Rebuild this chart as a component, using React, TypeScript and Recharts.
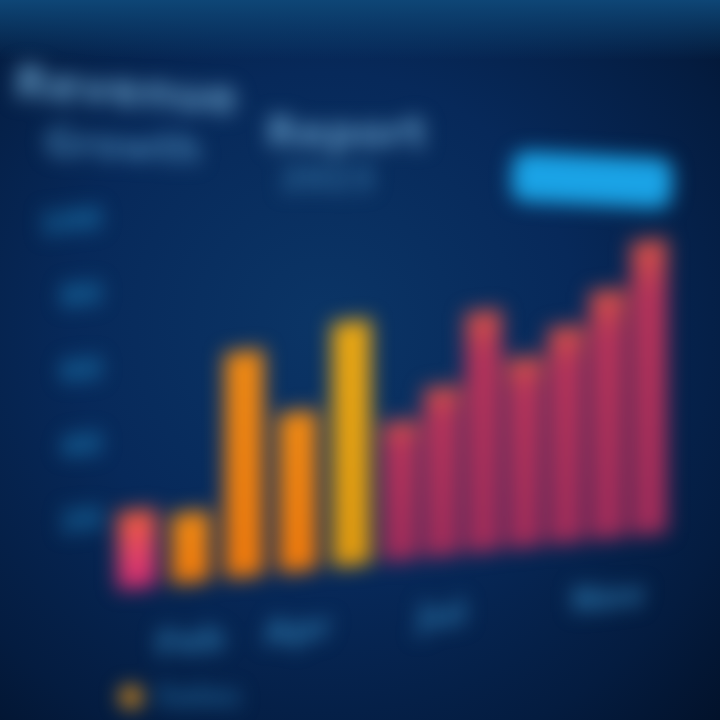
import React from "react";
import { BarChart, Bar, XAxis, YAxis, Cell } from "recharts";

const leftCategories = ["Jan", "Feb", "Mar", "Apr", "May"];
const leftValues = [20.8, 18.9, 60.3, 42.7, 65.3];
const rightCategories = ["Jun", "Jul", "Aug", "Sep", "Oct", "Nov", "Dec"];
const rightValues = [37.3, 45.3, 64.3, 50.9, 57.9, 66.4, 78.4];
const yTicks = [20, 40, 60, 80, 100];
const leftXTicks = ["Feb", "Apr"];
const rightXTicks = ["Jul", "Nov"];
const leftFills = ["url(#gPink)", "url(#gOrange)", "url(#gOrange)", "url(#gOrange)", "url(#gYellow)"];

const leftData = leftCategories.map((c, i) => ({ name: c, value: leftValues[i] }));
const rightData = rightCategories.map((c, i) => ({ name: c, value: rightValues[i] }));

const tickStyle = { fill: "#2a74a8", fontSize: 34, fontWeight: 700 };

export default function App() {
  return (
    <div
      style={{
        width: 720,
        height: 720,
        position: "fixed",
        left: 0,
        top: 0,
        overflow: "hidden",
        background:
          "radial-gradient(ellipse at 45% 45%, #0b3566 0%, #07295a 45%, #041c40 80%, #02122b 100%)",
        fontFamily: "'DejaVu Sans', sans-serif",
      }}
    >
      <div style={{ position: "absolute", left: 0, top: 0, width: 720, height: 60, background: "linear-gradient(#0e4676, rgba(14,70,118,0))" }} />
      <div style={{ position: "absolute", inset: 0, filter: "blur(10px)" }}>
        <div style={{ position: "absolute", left: 16, top: 55, fontSize: 46, fontWeight: 700, color: "#5b8fb8", transform: "rotate(4deg)", transformOrigin: "left top", whiteSpace: "nowrap" }}>
          Revenue
        </div>
        <div style={{ position: "absolute", left: 46, top: 120, fontSize: 38, fontWeight: 700, color: "#3f78a8", transform: "rotate(3deg)", transformOrigin: "left top", whiteSpace: "nowrap" }}>
          Growth
        </div>
        <div style={{ position: "absolute", left: 266, top: 108, fontSize: 42, fontWeight: 700, color: "#5a90bc", whiteSpace: "nowrap" }}>
          Report
        </div>
        <div style={{ position: "absolute", left: 280, top: 158, fontSize: 34, fontWeight: 700, color: "#2e6a9c", whiteSpace: "nowrap" }}>
          2023
        </div>
        <div style={{ position: "absolute", left: 512, top: 155, width: 160, height: 50, borderRadius: 14, background: "#1aa3e6", color: "#1aa3e6", fontSize: 20, lineHeight: "50px", textAlign: "center", transform: "rotate(3deg)" }}>
          Monthly
        </div>
        <div style={{ position: "absolute", left: 120, top: 680, display: "flex", alignItems: "center", gap: 14 }}>
          <div style={{ width: 22, height: 22, borderRadius: 11, background: "#e0901a" }} />
          <div style={{ fontSize: 28, fontWeight: 700, color: "#1d5f92", whiteSpace: "nowrap" }}>Sales</div>
        </div>
        <div style={{ position: "absolute", left: 0, top: 0, width: 720, height: 720, transform: "skewY(-6deg)", transformOrigin: "120px 590px" }}>
          <div style={{ position: "absolute", left: 0, top: 0 }}>
            <BarChart width={380} height={720} data={leftData} margin={{ top: 215, right: 2, bottom: 100, left: 35 }} barCategoryGap="14%" style={{ overflow: "visible" }}>
              <defs>
                <linearGradient id="gPink" x1="0" y1="0" x2="0" y2="1">
                  <stop offset="0%" stopColor="#f0603a" />
                  <stop offset="60%" stopColor="#e0406a" />
                  <stop offset="100%" stopColor="#c92a70" />
                </linearGradient>
                <linearGradient id="gOrange" x1="0" y1="0" x2="0" y2="1">
                  <stop offset="0%" stopColor="#f08a14" />
                  <stop offset="100%" stopColor="#f07a0c" />
                </linearGradient>
                <linearGradient id="gYellow" x1="0" y1="0" x2="0" y2="1">
                  <stop offset="0%" stopColor="#eaa814" />
                  <stop offset="100%" stopColor="#e09a10" />
                </linearGradient>
              </defs>
              <XAxis dataKey="name" axisLine={false} tickLine={false} ticks={leftXTicks} interval={0} tick={tickStyle} tickMargin={40} />
              <YAxis
                width={75}
                domain={[0, 100]}
                ticks={yTicks}
                axisLine={false}
                tickLine={false}
                tick={{ fill: "#1a74ac", fontSize: 30, fontWeight: 700 }}
              />
              <Bar dataKey="value" isAnimationActive={false}>
                {leftData.map((d, i) => (
                  <Cell key={d.name} fill={leftFills[i]} />
                ))}
              </Bar>
            </BarChart>
          </div>
          <div style={{ position: "absolute", left: 380, top: 0 }}>
            <BarChart width={340} height={720} data={rightData} margin={{ top: 215, right: 50, bottom: 100, left: 0 }} barCategoryGap="6%" style={{ overflow: "visible" }}>
              <defs>
                <linearGradient id="gMag" x1="0" y1="0" x2="0" y2="1">
                  <stop offset="0%" stopColor="#d85546" />
                  <stop offset="18%" stopColor="#b8345a" />
                  <stop offset="100%" stopColor="#a02c5a" />
                </linearGradient>
              </defs>
              <XAxis dataKey="name" axisLine={false} tickLine={false} ticks={rightXTicks} interval={0} tick={tickStyle} tickMargin={40} />
              <YAxis hide domain={[0, 100]} ticks={yTicks} />
              <Bar dataKey="value" fill="url(#gMag)" isAnimationActive={false} />
            </BarChart>
          </div>
        </div>
      </div>
    </div>
  );
}
